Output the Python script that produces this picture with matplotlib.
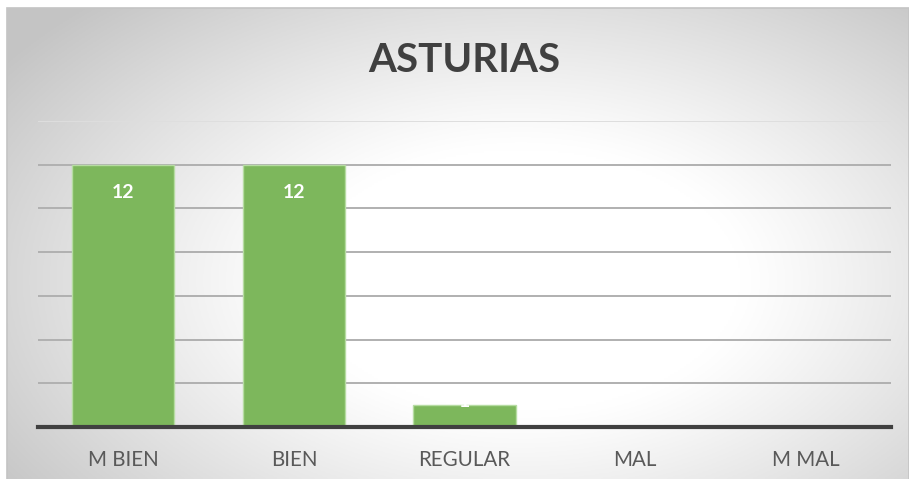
import numpy as np
import matplotlib
matplotlib.use("Agg")
import matplotlib.pyplot as plt

categories = ["M BIEN", "BIEN", "REGULAR", "MAL", "M MAL"]
values = [12, 12, 1, 0, 0]
title = "ASTURIAS"

W, H = 909, 479
fig = plt.figure(figsize=(W / 100, H / 100), dpi=100)

# radial gradient background (Excel style), computed in pixel space
bx0, by0 = 7, 8
bg = fig.add_axes([bx0 / W, 0, 1 - bx0 / W, 1 - by0 / H])
py, px = np.mgrid[by0:H:2, bx0:W:2]
r = np.sqrt(((px - 520) / 550.0) ** 2 + ((py - 280) / 330.0) ** 2)
shade = 1.0 - 0.23 * np.clip((r - 0.4) / 0.75, 0, 1) ** 1.1
bg.imshow(np.dstack([shade] * 3), aspect="auto", extent=[0, 1, 0, 1], origin="upper")
bg.set_axis_off()
fig.add_artist(plt.Rectangle((6.5 / W, -0.01), 1 - 6.5 / W, 1.01 - 8 / H, transform=fig.transFigure,
                             fill=False, ec="#c4c4c4", lw=1.2))

ax = fig.add_axes([38 / W, (H - 427) / H, (891 - 38) / W, (427 - 121) / H])
ax.patch.set_alpha(0)
x = np.arange(len(categories))
ax.bar(x, values, width=0.6, color="#7db75c", edgecolor="#b6dca2", linewidth=1, zorder=3)
ax.set_xlim(-0.5, len(categories) - 0.5)
ax.set_ylim(0, 14)
ax.set_yticks(np.arange(0, 15, 2))
for gy in range(2, 15, 2):
    ax.axhline(gy, color="#dedede" if gy == 14 else "#b0b0b0", lw=1.4, zorder=1)
ax.tick_params(axis="y", left=False, labelleft=False)
ax.tick_params(axis="x", bottom=False, pad=13)
ax.set_xticks(x)
ax.set_xticklabels(categories, family="Lato", fontsize=14.8, color="#595959")
for s in ["top", "right", "left"]:
    ax.spines[s].set_visible(False)
ax.spines["bottom"].set_color("#404040")
ax.spines["bottom"].set_linewidth(3)
ax.spines["bottom"].set_zorder(4)

for xi, v in zip(x, values):
    if v > 2:
        ax.text(xi, v - 1.28, str(v), ha="center", va="center", color="white",
                family="Lato", fontweight="bold", fontsize=14, zorder=5)
    elif v > 0:
        ax.text(xi, v - 0.22, str(v), ha="center", va="bottom", color="white",
                family="Lato", fontweight="bold", fontsize=14, zorder=5)

fig.text(464 / W, 1 - 61 / H, title, ha="center", va="center", family="Lato",
         fontweight="bold", fontsize=29, color="#404040")

fig.savefig("out.png", dpi=100)
